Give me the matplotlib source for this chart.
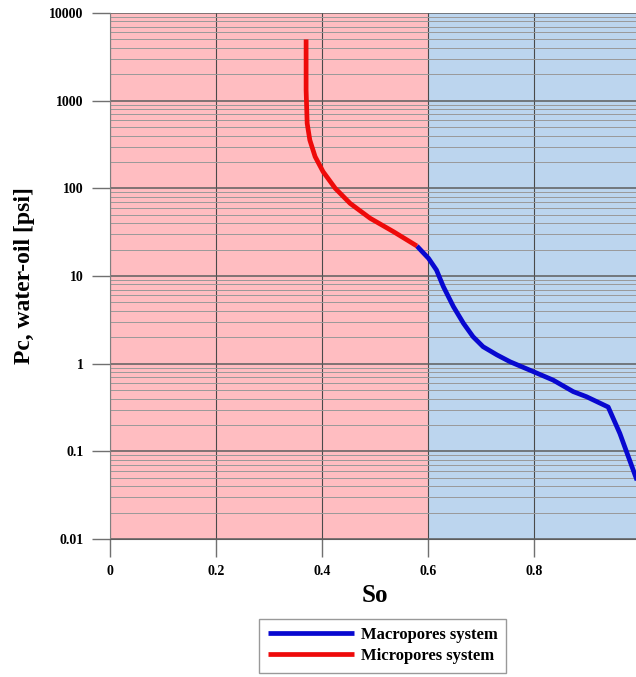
import matplotlib
matplotlib.use("Agg")
import matplotlib.pyplot as plt
from matplotlib.ticker import LogLocator, FixedLocator, FixedFormatter, NullFormatter

# capillary pressure curves
micro_so = [0.370, 0.370, 0.370, 0.372, 0.377, 0.387, 0.402, 0.425, 0.453,
            0.491, 0.535, 0.579]
micro_pc = [5000, 2500, 1325, 552, 356, 230, 155, 100, 67.4,
            45.5, 32.0, 22.0]

macro_so = [0.579, 0.601, 0.616, 0.629, 0.648, 0.667, 0.685, 0.704, 0.730, 0.755,
            0.799, 0.836, 0.874, 0.899, 0.940, 0.962, 0.992, 1.0]
macro_pc = [22.0, 15.9, 11.7, 7.56, 4.47, 2.88, 2.03, 1.56, 1.26, 1.05,
            0.81, 0.65, 0.48, 0.42, 0.32, 0.16, 0.051, 0.038]

region_edges = [0.0, 0.6, 1.0]
region_colors = ["#ffbdc1", "#bcd5ee"]

x_ticks = [0, 0.2, 0.4, 0.6, 0.8, 1.0]
x_labels = ["0", "0.2", "0.4", "0.6", "0.8", ""]
y_ticks = [0.01, 0.1, 1, 10, 100, 1000, 10000]
y_labels = ["0.01", "0.1", "1", "10", "100", "1000", "10000"]

serif = ["Liberation Serif", "DejaVu Serif"]

fig = plt.figure(figsize=(6.36, 6.77), dpi=100)
ax = fig.add_axes([110 / 636.0, 1 - 539 / 677.0, 530 / 636.0, 526 / 677.0])

for i in range(len(region_colors)):
    ax.axvspan(region_edges[i], region_edges[i + 1], color=region_colors[i], lw=0, zorder=0)

ax.set_yscale("log")
ax.set_xlim(0, 1)
ax.set_ylim(0.01, 10000)

ax.yaxis.set_major_locator(FixedLocator(y_ticks))
ax.yaxis.set_major_formatter(FixedFormatter(y_labels))
ax.yaxis.set_minor_locator(LogLocator(base=10, subs=range(2, 10), numticks=20))
ax.yaxis.set_minor_formatter(NullFormatter())
ax.xaxis.set_major_locator(FixedLocator(x_ticks))
ax.xaxis.set_major_formatter(FixedFormatter(x_labels))

ax.grid(True, which="major", axis="y", color="#5e5e5e", lw=1.1, zorder=1)
ax.grid(True, which="minor", axis="y", color="#999999", lw=0.7, zorder=1)
ax.grid(True, which="major", axis="x", color="#4a4a4a", lw=0.8, zorder=1)

ax.tick_params(axis="both", which="major", direction="out", length=13, width=1.0,
               color="#707070", pad=6, labelsize=10)
ax.tick_params(axis="y", which="minor", length=0)
for lab in ax.get_xticklabels() + ax.get_yticklabels():
    lab.set_family(serif)
    lab.set_fontweight("bold")

for side in ["top", "right"]:
    ax.spines[side].set_visible(False)
ax.spines["left"].set_color("#808080")
ax.spines["bottom"].set_color("#5e5e5e")

ax.plot(macro_so, macro_pc, color="#0808d0", lw=3.4, solid_capstyle="butt",
        solid_joinstyle="round", label="Macropores system", zorder=3)
ax.plot(micro_so, micro_pc, color="#ee0a0a", lw=3.4, solid_capstyle="butt",
        solid_joinstyle="round", label="Micropores system", zorder=3)

ax.set_xlabel("So", family=serif, fontweight="bold", fontsize=18, labelpad=4)
ax.set_ylabel("Pc, water-oil [psi]", family=serif, fontweight="bold", fontsize=17, labelpad=10)

leg = fig.legend(loc="upper center", bbox_to_anchor=(0.602, 0.0857),
                 prop={"family": serif, "weight": "bold", "size": 12},
                 frameon=True, fancybox=False, edgecolor="#808080",
                 handlelength=5.2, handletextpad=0.4, borderpad=0.5,
                 labelspacing=0.3, borderaxespad=0)
leg.get_frame().set_linewidth(1.0)

fig.savefig("out.png", dpi=100)
